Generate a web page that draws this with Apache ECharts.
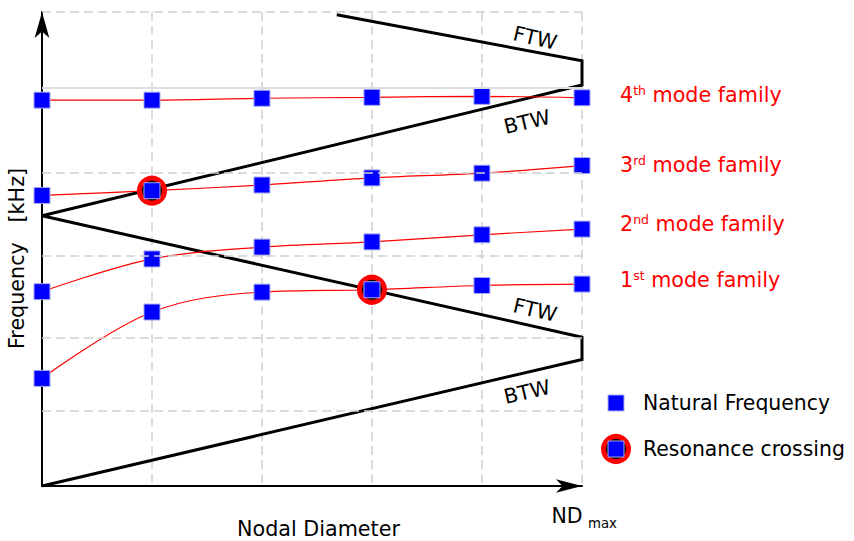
<!DOCTYPE html>
<html>
<head>
<meta charset="utf-8">
<script src="https://cdn.jsdelivr.net/npm/echarts@6/dist/echarts.min.js"></script>
<style>
html, body { margin: 0; padding: 0; background: #fff; }
#chart { width: 854px; height: 541px; }
</style>
</head>
<body>
<div id="chart"></div>
<script>
// Nodal diameter positions (ND max sits on the right edge)
const ndMax = 4.91;
const nodalDiameters = [0, 1, 2, 3, 4, ndMax];

// Natural frequencies of each mode family, kHz
const mode1 = [2.27, 3.67, 4.09, 4.14, 4.23, 4.26];
const mode2 = [4.10, 4.79, 5.04, 5.15, 5.30, 5.42];
const mode3 = [6.13, 6.23, 6.35, 6.50, 6.60, 6.76];
const mode4 = [8.14, 8.14, 8.18, 8.20, 8.22, 8.19];
const modeFamilies = [mode1, mode2, mode3, mode4];
const familyLabels = [['1', 'st'], ['2', 'nd'], ['3', 'rd'], ['4', 'th']];

// Resonance crossings: mode family number and index into nodalDiameters
const resonanceFamily = [3, 1];
const resonanceIndex = [1, 3];

// Excitation zigzag: BTW / FTW branches reflected at ND max
const excitationND = [0, ndMax, ndMax, 0, ndMax, ndMax, 2.68];
const excitationFreq = [0, 2.67, 3.14, 5.70, 8.46, 8.97, 9.94];

// Horizontal reference levels, kHz
const freqGrid = [1.58, 3.12, 4.85, 6.60, 8.40, 10];
const solidLevel = 8.40;

const FONT = 'DejaVu Sans';
const BLUE = '#0000ff';
const RED = '#ff0000';

const chart = echarts.init(document.getElementById('chart'), null, { renderer: 'svg' });

const naturalPoints = [];
modeFamilies.forEach(m => nodalDiameters.forEach((nd, i) => naturalPoints.push([nd, m[i]])));

const resonancePoints = resonanceIndex.map((idx, k) =>
  [nodalDiameters[idx], modeFamilies[resonanceFamily[k] - 1][idx]]);

const dashed = { type: [9, 5], color: '#d0d0d0', width: 1.5 };

function plainText(text, x, y, size, opts) {
  return Object.assign({
    type: 'text', x: x, y: y, silent: true,
    style: Object.assign({
      text: text, fontSize: size, fontFamily: FONT, fill: '#000',
      align: 'center', verticalAlign: 'middle'
    }, (opts && opts.style) || {})
  }, (opts && opts.el) || {});
}

const waveTilt = 13 * Math.PI / 180;
const labelY = [280, 224, 165, 95];

const graphics = [
  plainText('FTW', 535, 38, 20.5, { el: { rotation: -waveTilt } }),
  plainText('BTW', 527, 122, 20.5, { el: { rotation: waveTilt } }),
  plainText('FTW', 535, 310, 20.5, { el: { rotation: -waveTilt } }),
  plainText('BTW', 527, 392, 20.5, { el: { rotation: waveTilt } }),
  plainText('Frequency\u00a0\u00a0\u00a0[kHz]', 17, 258.5, 20.7, { el: { rotation: Math.PI / 2 } }),
  plainText('Nodal Diameter', 318.5, 528.5, 20.7),
  plainText('ND', 551.5, 516, 20.5, { style: { align: 'left' } }),
  plainText('max', 588, 523.5, 13.3, { style: { align: 'left' } })
];

familyLabels.forEach(([n, sup], k) => {
  graphics.push({
    type: 'text', x: 620, y: labelY[k], silent: true,
    style: {
      text: '{b|' + n + '}{s|' + sup + '}{b| mode family}',
      align: 'left', verticalAlign: 'middle',
      rich: {
        b: { fontSize: 20.7, fontFamily: FONT, fill: RED, lineHeight: 22 },
        s: { fontSize: 12.5, fontFamily: FONT, fill: RED, lineHeight: 12, verticalAlign: 'top' }
      }
    }
  });
});

// Legend
graphics.push(
  { type: 'rect', silent: true, shape: { x: 608, y: 395, width: 16, height: 16 },
    style: { fill: BLUE, stroke: '#a9a9ee', lineWidth: 1 } },
  plainText('Natural Frequency', 643, 402.5, 20.4, { style: { align: 'left' } }),
  { type: 'circle', silent: true, shape: { cx: 616, cy: 449, r: 12.5 },
    style: { fill: '#000', stroke: RED, lineWidth: 5 } },
  { type: 'rect', silent: true, shape: { x: 608, y: 441, width: 16, height: 16 },
    style: { fill: BLUE, stroke: '#a9a9ee', lineWidth: 1 } },
  plainText('Resonance crossing', 643, 448.5, 20.4, { style: { align: 'left' } })
);

const series = [
  {
    type: 'line', name: 'levels', data: [], silent: true, z: 0,
    markLine: {
      silent: true, symbol: ['none', 'none'], label: { show: false },
      animation: false,
      data: freqGrid.map(v => ({
        yAxis: v,
        lineStyle: v === solidLevel ? { type: 'solid', color: '#dedede', width: 2 } : dashed
      }))
    }
  },
  {
    type: 'line', name: 'Excitation', silent: true, z: 1,
    data: excitationND.map((x, i) => [x, excitationFreq[i]]),
    symbol: 'none', showSymbol: false,
    lineStyle: { color: '#000', width: 3, join: 'miter' }
  }
];

modeFamilies.forEach((m, k) => {
  series.push({
    type: 'line', name: 'mode family ' + (k + 1), silent: true, z: 2,
    data: nodalDiameters.map((x, i) => [x, m[i]]),
    smooth: 0.35, symbol: 'none', showSymbol: false,
    lineStyle: { color: RED, width: 1.2 }
  });
});

series.push(
  {
    type: 'scatter', name: 'Resonance crossing', silent: true, z: 3,
    data: resonancePoints, symbol: 'circle', symbolSize: 25,
    itemStyle: { color: '#000', borderColor: RED, borderWidth: 5, opacity: 1 }
  },
  {
    type: 'scatter', name: 'Natural Frequency', silent: true, z: 4,
    data: naturalPoints, symbol: 'rect', symbolSize: 16,
    itemStyle: { color: BLUE, borderColor: '#a9a9ee', borderWidth: 1, opacity: 1 }
  }
);

chart.setOption({
  animation: false,
  backgroundColor: '#fff',
  grid: { left: 42, right: 272, top: 12, bottom: 55, containLabel: false },
  xAxis: {
    type: 'value', min: 0, max: ndMax, interval: 1,
    axisLine: {
      show: true, onZero: false,
      lineStyle: { color: '#000', width: 2 },
      symbol: ['none', 'arrow'], symbolSize: [10, 26], symbolOffset: [0, 0]
    },
    axisTick: { show: false },
    axisLabel: { show: false },
    splitLine: { show: true, lineStyle: dashed }
  },
  yAxis: {
    type: 'value', min: 0, max: 10,
    axisLine: {
      show: true, onZero: false,
      lineStyle: { color: '#000', width: 2 },
      symbol: ['none', 'arrow'], symbolSize: [11, 26], symbolOffset: [0, 0]
    },
    axisTick: { show: false },
    axisLabel: { show: false },
    splitLine: { show: false }
  },
  graphic: graphics,
  series: series
});
</script>
</body>
</html>
